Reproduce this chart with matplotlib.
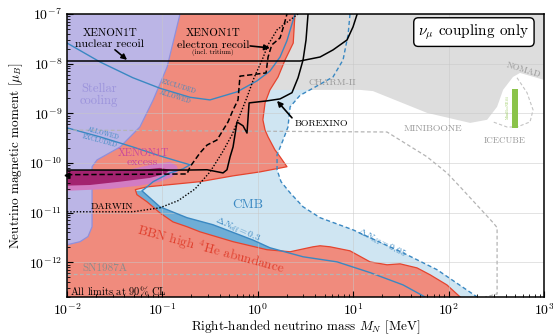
import numpy as np
import matplotlib
matplotlib.use("Agg")
import matplotlib.pyplot as plt

plt.rcParams['font.family'] = ['cmr10', 'DejaVu Serif']
plt.rcParams['mathtext.fontset'] = 'cm'
plt.rcParams['axes.formatter.use_mathtext'] = True

# ---- data (mass in MeV, magnetic moment in mu_B) ----
# light blue CMB region, boundary Delta N_eff = 0.05 (dashed)
cmb05_mass = [9.25, 8.83, 7.82, 6.14, 3.79, 2.77, 2.18, 2.07, 1.84, 1.59, 1.59, 1.75, 2.18, 2.98, 4.49, 9.95, 33.3, 75.5, 199]
cmb05_mu = [1e-7, 3.8e-8, 1.19e-8, 5.4e-9, 3.2e-9, 2.3e-9, 1.35e-9, 5.3e-10, 2.9e-10, 1.46e-10, 7.3e-11, 4.2e-11, 2.5e-11,
            1.31e-11, 7.9e-12, 4.5e-12, 1.55e-12, 7.1e-13, 2e-13]

# Delta N_eff = 0.3 contour (solid blue), incl. lower "allowed/excluded" branch
neff03_mass = [0.01, 0.0222, 0.049, 0.094, 0.153, 0.195, 0.164, 0.120, 0.080, 0.069, 0.061, 0.094, 0.181, 0.339,
               0.891, 1.34, 2.98, 6.76, 15.0, 33.3, 56.6]
neff03_mu = [5.1e-10, 3.35e-10, 2.1e-10, 1.39e-10, 1.05e-10, 9.2e-11, 7.6e-11, 6.3e-11, 4.2e-11, 3.3e-11, 2.75e-11,
             1.31e-11, 7.9e-12, 5.7e-12, 2.8e-12, 1.96e-12, 1.29e-12, 1.02e-12, 6.2e-13, 3.5e-13, 2e-13]

# upper "excluded/allowed" blue curve
upper_mass = [0.01, 0.0222, 0.049, 0.094, 0.195, 0.315, 0.605, 0.98, 1.34, 1.71, 2.02, 2.28, 2.45]
upper_mu = [2.6e-8, 1.08e-8, 5.2e-9, 3.2e-9, 2.1e-9, 1.86e-9, 2.7e-9, 4.5e-9, 7.1e-9, 1.36e-8, 2.9e-8, 6.3e-8, 1e-7]

# CHARM-II / NOMAD grey region
charm_mass = [0.9, 1000, 1000, 560, 473, 372, 322, 253, 168, 59.4, 16.1, 11.8, 1.28, 0.9]
charm_mu = [1e-7, 1e-7, 4.7e-9, 6.5e-9, 5.4e-9, 2.96e-9, 1.35e-9, 7.4e-10, 6.4e-10, 1.02e-9, 2.8e-9, 2.96e-9,
            2.96e-9, 2.96e-9]

# BBN high 4He abundance
bbn_mass = [0.01, 0.01, 2.45, 2.35, 1.93, 1.63, 1.34, 1.19, 1.13, 1.19, 1.28, 1.51, 1.71, 2.02, 1.05, 0.55, 0.248,
            0.069, 0.052, 0.054, 0.069, 0.094, 0.129, 0.181, 0.248, 0.55, 1.25, 2.18, 3.79, 4.49, 5.71, 9.25, 15.0,
            22.6, 31.0, 46.7, 63.9, 96, 132]
bbn_mu = [2e-13, 1e-7, 1e-7, 2.6e-8, 1.19e-8, 5.4e-9, 2.96e-9, 1.62e-9, 7.4e-10, 4.6e-10, 3.35e-10, 1.84e-10,
          1.33e-10, 8.4e-11, 6.6e-11, 5.5e-11, 4.2e-11, 3.3e-11, 2.9e-11, 2.3e-11, 1.65e-11, 9.9e-12, 6.5e-12,
          5.2e-12, 4.1e-12, 2.6e-12, 1.79e-12, 1.63e-12, 2.05e-12, 2.15e-12, 2.05e-12, 1.70e-12, 1.02e-12, 8.9e-13,
          9.3e-13, 7.7e-13, 5.6e-13, 3.5e-13, 2e-13]

# stellar cooling
stellar_mass = [0.01, 0.153, 0.112, 0.080, 0.058, 0.036, 0.0206, 0.0183, 0.0183, 0.0166, 0.0137, 0.01]
stellar_mu = [1e-7, 1e-7, 8.6e-9, 1.86e-9, 5.3e-10, 2.1e-10, 1.15e-10, 8.4e-11, 5.2e-12, 3.3e-12, 2.6e-12, 2.25e-12]

# XENON1T excess (2 sigma / 1 sigma)
excess2_mass = [0.01, 0.0457, 0.0836, 0.120, 0.142, 0.146, 0.126, 0.094, 0.058, 0.0282, 0.01]
excess2_mu = [7.0e-11, 7.4e-11, 9.6e-11, 1.05e-10, 8.7e-11, 6.9e-11, 5.2e-11, 4.2e-11, 3.5e-11, 3.0e-11, 2.75e-11]
excess1_mass = [0.01, 0.058, 0.094, 0.120, 0.106, 0.074, 0.036, 0.0174, 0.01]
excess1_mu = [7.0e-11, 7.2e-11, 7.96e-11, 7.3e-11, 6.0e-11, 5.0e-11, 4.2e-11, 3.6e-11, 3.5e-11]

# black limit lines
nuclear_mass = [0.01, 2.77, 4.49, 6.14, 8.61, 9.95, 11.0]
nuclear_mu = [1.13e-8, 1.13e-8, 1.36e-8, 1.89e-8, 3.0e-8, 5.5e-8, 1e-7]

borexino_mass = [0.01, 0.181, 0.294, 0.432, 0.475, 0.512, 0.550, 0.605, 0.70, 0.77, 0.81, 1.25, 1.71, 2.28, 2.64,
                 2.98, 3.2, 3.36]
borexino_mu = [7.2e-11, 7.2e-11, 7.3e-11, 6.3e-11, 7.3e-11, 1.33e-10, 2.1e-10, 6.7e-10, 5.6e-10, 4.0e-10, 1.62e-9,
               1.78e-9, 1.95e-9, 2.6e-9, 5.2e-9, 1.19e-8, 3.0e-8, 1e-7]

electron_mass = [0.01, 0.181, 0.195, 0.248, 0.294, 0.373, 0.432, 0.487, 0.550, 0.620, 0.650, 1.22, 1.28, 1.40,
                 1.71, 1.88, 2.02]
electron_mu = [5.8e-11, 6.0e-11, 8.4e-11, 1.6e-10, 2.3e-10, 2.9e-10, 4.6e-10, 6.7e-10, 1.17e-9, 1.86e-9, 5.6e-9,
               6.5e-9, 1.36e-8, 2.38e-8, 3.3e-8, 6.0e-8, 1e-7]

darwin_mass = [0.01, 0.049, 0.094, 0.146, 0.220, 0.315, 0.422, 0.537, 0.650, 0.770, 0.913, 1.11, 1.28, 1.59, 2.18,
               2.64]
darwin_mu = [1.04e-11, 1.04e-11, 1.25e-11, 1.74e-11, 3.0e-11, 6.6e-11, 1.6e-10, 3.7e-10, 9.3e-10, 2.1e-9, 5.2e-9,
             1.19e-8, 2.4e-8, 4.8e-8, 7.6e-8, 1e-7]

# grey dashed limits
miniboone_mass = [0.01, 22.6, 59.4, 96, 132, 292, 322, 322, 241]
miniboone_mu = [4.6e-10, 4.2e-10, 1.33e-10, 6.3e-11, 3.3e-11, 6.3e-12, 5.0e-12, 2.3e-13, 2e-13]
sn_mass = [0.01, 54]
sn_mu = [5.8e-13, 5.8e-13]
icecube_mass = [521, 663, 767, 713, 521, 409, 292]
icecube_mu = [5.2e-9, 2.6e-9, 1.17e-9, 6.7e-10, 5.3e-10, 5.3e-10, 6.7e-10]
fit_mass = [462, 534]
fit_mu = [5.1e-10, 3.1e-9]

# axis ticks
x_ticks = [1e-2, 1e-1, 1e0, 1e1, 1e2, 1e3]
y_ticks = [1e-12, 1e-11, 1e-10, 1e-9, 1e-8, 1e-7]

# ---- figure ----
fig = plt.figure(figsize=(5.53, 3.36), dpi=100)
ax = fig.add_axes([0.1212, 0.1161, 0.8626, 0.8423])
ax.set_xscale('log')
ax.set_yscale('log')
ax.set_xticks(x_ticks)
ax.set_yticks(y_ticks)
ax.set_xlim(1e-2, 1e3)
ax.set_ylim(2e-13, 1e-7)

blue = '#3a88c2'
grey_txt = '#9a9a9a'

ax.fill([0.01] + cmb05_mass + [0.01], [1e-7] + cmb05_mu + [2e-13], color='#cfe5f2', lw=0, zorder=1)
ax.fill(charm_mass, charm_mu, color='#dddddd', lw=0, zorder=1.2)
ax.fill(neff03_mass[10:] + [0.01, 0.01], neff03_mu[10:] + [2e-13, 2.75e-11], color='#6eadd6', lw=0, zorder=1.4)
ax.fill(bbn_mass, bbn_mu, color='#f08b7d', lw=0, zorder=1.6)
ax.plot(bbn_mass[2:], bbn_mu[2:], color='#e5442e', lw=0.9, zorder=1.7)
ax.fill(stellar_mass, stellar_mu, color='#bbb5e6', lw=0, zorder=1.8)
ax.plot(stellar_mass[1:], stellar_mu[1:], color='#8f8fdc', lw=0.9, zorder=1.9)
ax.fill(excess2_mass, excess2_mu, color='#d27cc2', lw=0, zorder=2.0)
ax.fill(excess1_mass, excess1_mu, color='#a3236f', lw=0, zorder=2.1)

ax.set_axisbelow(False)
ax.grid(True, which='major', color='#c8c8c8', lw=0.6, alpha=0.6)

# blue contours
ax.plot(cmb05_mass, cmb05_mu, color=blue, lw=1.0, ls=(0, (3, 2)), zorder=3)
ax.plot(neff03_mass, neff03_mu, color=blue, lw=1.0, zorder=3)
ax.plot(upper_mass, upper_mu, color=blue, lw=1.0, zorder=3)

# grey dashed
ax.plot(miniboone_mass, miniboone_mu, color='#b4b4b4', lw=0.9, ls=(0, (3, 2)), zorder=3)
ax.plot(sn_mass, sn_mu, color='#b4b4b4', lw=0.9, ls=(0, (3, 2)), zorder=3)
ax.plot(icecube_mass, icecube_mu, color='#c4c4c4', lw=0.8, ls=(0, (3, 2)), zorder=3)
ax.fill_between(fit_mass, fit_mu[0], fit_mu[1], color='#8bc34a', lw=0, zorder=3)

# black limits
ax.plot(nuclear_mass, nuclear_mu, color='k', lw=1.1, zorder=4)
ax.plot(borexino_mass, borexino_mu, color='k', lw=1.1, zorder=4)
ax.plot(electron_mass, electron_mu, color='k', lw=1.1, ls=(0, (3.5, 1.8)), zorder=4)
ax.plot(electron_mass[:1], electron_mu[:1], color='k', marker='<', ms=3.5, clip_on=False, zorder=4)
ax.plot(darwin_mass, darwin_mu, color='k', lw=1.0, ls=(0, (1, 1.3)), zorder=4)

# ---- labels ----
arrow = dict(arrowstyle='-|>', color='k', lw=1.2, mutation_scale=8, shrinkA=0, shrinkB=0)
ax.text(0.0282, 4.15e-8, 'XENON1T', fontsize=8, ha='center', va='center', zorder=5)
ax.text(0.0282, 2.5e-8, 'nuclear recoil', fontsize=8.5, ha='center', va='center', zorder=5)
ax.annotate('', xy=(0.0426, 1.19e-8), xytext=(0.0318, 1.9e-8), arrowprops=arrow, zorder=5)

ax.text(0.339, 4.15e-8, 'XENON1T', fontsize=8, ha='center', va='center', zorder=5)
ax.text(0.339, 2.38e-8, 'electron recoil', fontsize=8.5, ha='center', va='center', zorder=5)
ax.text(0.339, 1.64e-8, '(incl. tritium)', fontsize=5, ha='center', va='center', zorder=5)
ax.annotate('', xy=(1.34, 2.07e-8), xytext=(0.83, 2.27e-8), arrowprops=arrow, zorder=5)

ax.text(0.0216, 2.34e-9, 'Stellar\ncooling', fontsize=9, color='#9c94dc', ha='center', va='center',
        linespacing=0.95, zorder=5)
ax.text(0.146, 3.4e-9, 'EXCLUDED', fontsize=4.5, color=blue, ha='center', va='center', rotation=-17, zorder=5)
ax.text(0.136, 2.14e-9, 'ALLOWED', fontsize=4.5, color=blue, ha='center', va='center', rotation=-17, zorder=5)
ax.text(0.0238, 3.85e-10, 'ALLOWED', fontsize=4.5, color=blue, ha='center', va='center', rotation=-15, zorder=5)
ax.text(0.0222, 2.8e-10, 'EXCLUDED', fontsize=4.5, color=blue, ha='center', va='center', rotation=-15, zorder=5)

ax.text(0.064, 1.6e-10, 'XENON1T', fontsize=7.5, color='#c8489c', ha='center', va='center', zorder=5)
ax.text(0.062, 1.05e-10, 'excess', fontsize=8.5, color='#c8489c', ha='center', va='center', zorder=5)

ax.text(0.0296, 1.31e-11, 'DARWIN', fontsize=7, ha='center', va='center', zorder=5)
ax.text(0.789, 1.44e-11, 'CMB', fontsize=9.5, color=blue, ha='center', va='center', zorder=5)
ax.text(0.62, 4.5e-12, r'$\Delta N_{\rm eff} = 0.3$', fontsize=7, color=blue, ha='center', va='center',
        rotation=-24, zorder=5)
ax.text(20.0, 2.47e-12, r'$\Delta N_{\rm eff} = 0.05$', fontsize=7, color=blue, ha='center', va='center',
        rotation=-27, zorder=5)
ax.text(0.323, 1.79e-12, r'BBN high $^4$He abundance', fontsize=9.5, color='#e0402e', ha='center', va='center',
        rotation=-15, zorder=5)
ax.text(0.025, 7.7e-13, 'SN1987A', fontsize=8, color='#8c8c8c', ha='center', va='center', zorder=5)
ax.text(0.0107, 2.55e-13, r'All limits at 90$\%$ CL', fontsize=7.5, ha='left', va='center', zorder=5)

ax.text(4.6, 6.1e-10, 'BOREXINO', fontsize=7, ha='center', va='center', zorder=5)
ax.annotate('', xy=(1.59, 1.78e-9), xytext=(2.28, 8.1e-10), arrowprops=arrow, zorder=5)
ax.text(6.0, 4.1e-9, 'CHARM-II', fontsize=7, color=grey_txt, ha='center', va='center', zorder=5)
ax.text(68.7, 4.85e-10, 'MINIBOONE', fontsize=7, color=grey_txt, ha='center', va='center', zorder=5)
ax.text(603, 7.5e-9, 'NOMAD', fontsize=6.5, color=grey_txt, ha='center', va='center', rotation=-17, zorder=5)
ax.text(390, 2.8e-10, 'ICECUBE', fontsize=6.5, color=grey_txt, ha='center', va='center', zorder=5)
ax.text(420, 1.28e-9, 'MiniBooNE fit', fontsize=2.5, color='#8bc34a', ha='center', va='center', rotation=90,
        zorder=5)

ax.text(0.853, 0.936, r'$\nu_\mu$ coupling only', transform=ax.transAxes, fontsize=11, ha='center', va='center',
        zorder=6, bbox=dict(boxstyle='round,pad=0.3', fc='white', ec='k', lw=1.0))

ax.set_xlabel(r'Right-handed neutrino mass $M_N$ [MeV]', fontsize=9.5, labelpad=0.5)
ax.set_ylabel(r'Neutrino magnetic moment [$\mu_B$]', fontsize=9.5, labelpad=3)
ax.tick_params(which='both', direction='in', labelsize=10)
ax.tick_params(which='major', length=4, width=0.8)
ax.tick_params(which='minor', length=2, width=0.6)
for s in ax.spines.values():
    s.set_linewidth(1.1)
    s.set_zorder(7)

fig.savefig('out.png', dpi=100)
